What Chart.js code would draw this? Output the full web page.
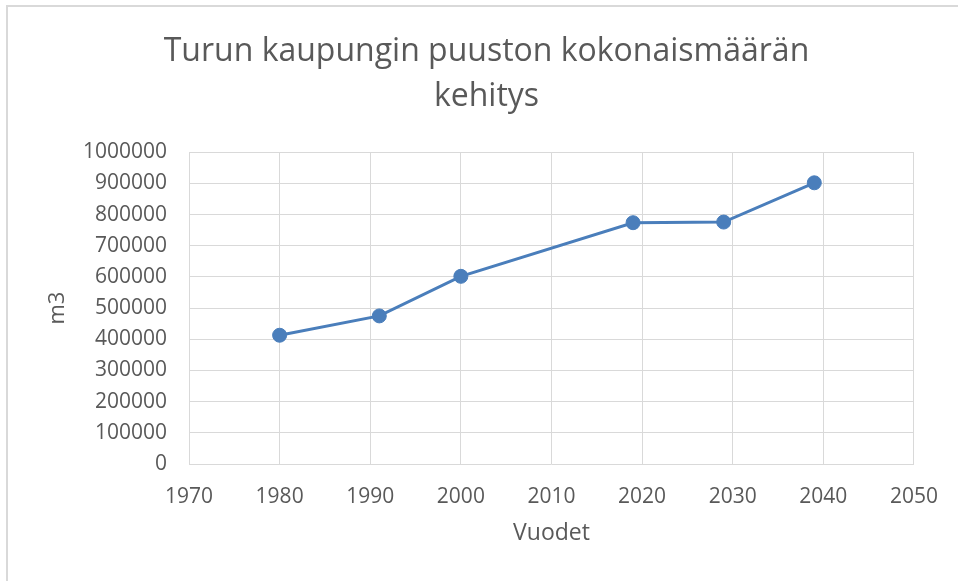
<!DOCTYPE html>
<html>
<head>
<meta charset="utf-8">
<script src="https://cdn.jsdelivr.net/npm/chart.js@4.4.1/dist/chart.umd.min.js"></script>
<style>
  html, body { margin: 0; padding: 0; background: #fff; }
  #wrap { position: relative; width: 958px; height: 581px; }
  #frame {
    position: absolute; left: 6px; top: 5px; width: 960px; height: 590px;
    border-left: 2px solid #d9d9d9; border-top: 2px solid #d9d9d9;
    pointer-events: none;
  }
</style>
</head>
<body>
<div id="wrap">
  <canvas id="chart" width="958" height="581"></canvas>
  <div id="frame"></div>
</div>
<script>
const years = [1980, 1991, 2000, 2019, 2029, 2039];
const volumes = [413000, 475000, 602000, 774000, 776000, 902000];
const yearTicks = [1970, 1980, 1990, 2000, 2010, 2020, 2030, 2040, 2050];
const volumeTicks = [0, 100000, 200000, 300000, 400000, 500000, 600000, 700000, 800000, 900000, 1000000];

const textColor = '#595959';
const gridColor = '#d9d9d9';
const blue = '#4a7ebb';
const font = 'Open Sans';

const ctx = document.getElementById('chart').getContext('2d');

new Chart(ctx, {
  type: 'line',
  data: {
    datasets: [{
      label: 'm3',
      data: years.map((y, i) => ({ x: y, y: volumes[i] })),
      borderColor: blue,
      backgroundColor: blue,
      borderWidth: 3,
      pointRadius: 7,
      pointBorderWidth: 1,
      pointBackgroundColor: blue,
      pointBorderColor: blue,
      tension: 0,
    }]
  },
  options: {
    responsive: false,
    animation: false,
    layout: { padding: { left: 57, right: 42, top: 0, bottom: 0 } },
    plugins: {
      legend: { display: false },
      tooltip: { enabled: false },
      title: {
        display: true,
        text: ['Turun kaupungin puuston kokonaismäärän', 'kehitys'],
        color: textColor,
        font: { family: font, size: 32, weight: '400', lineHeight: 1.41 },
        padding: { top: 29, bottom: 33 },
      },
    },
    scales: {
      x: {
        type: 'linear',
        min: 1970,
        max: 2050,
        afterBuildTicks: (scale) => { scale.ticks = yearTicks.map(v => ({ value: v })); },
        afterFit: (scale) => { scale.height = 117; },
        grid: { color: gridColor, drawTicks: false, lineWidth: 1 },
        border: { display: false },
        ticks: {
          color: textColor,
          padding: 20,
          maxRotation: 0,
          autoSkip: false,
          font: { family: font, size: 21 },
          callback: (v) => String(v),
        },
        title: {
          display: true,
          text: 'Vuodet',
          color: textColor,
          font: { family: font, size: 23 },
          padding: { top: 0, bottom: 34 },
        },
      },
      y: {
        min: 0,
        max: 1000000,
        afterBuildTicks: (scale) => { scale.ticks = volumeTicks.map(v => ({ value: v })); },
        afterFit: (scale) => { scale.width = 189 - 57; },
        grid: { color: gridColor, drawTicks: false, lineWidth: 1 },
        border: { display: false },
        ticks: {
          color: textColor,
          padding: 22,
          autoSkip: false,
          font: { family: font, size: 21 },
          callback: (v) => String(v),
        },
        title: {
          display: true,
          text: 'm3',
          color: textColor,
          font: { family: font, size: 22 },
          padding: { top: -12, bottom: 0 },
        },
      },
    },
  },
});
</script>
</body>
</html>
